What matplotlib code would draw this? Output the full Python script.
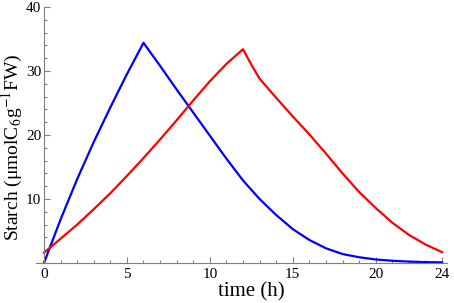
import matplotlib
matplotlib.use('Agg')
import matplotlib.pyplot as plt
from matplotlib.ticker import MultipleLocator

# Starch over a 24 h cycle
t_blue = [0, 1, 2, 3, 4, 5, 6, 7, 8, 9, 10, 11, 12, 13, 14, 15, 16, 17, 18, 19, 20, 21, 22, 23, 24]
starch_blue = [0.0, 6.8, 13.1, 18.9, 24.3, 29.5, 34.4, 30.8, 27.1, 23.5, 19.9, 16.3, 12.9,
               10.0, 7.5, 5.3, 3.6, 2.3, 1.4, 0.9, 0.55, 0.35, 0.22, 0.14, 0.1]

t_red = [0, 1, 2, 3, 4, 5, 6, 7, 8, 9, 10, 11, 12, 12.5, 13, 14, 15, 16, 17, 18, 19, 20, 21, 22, 23, 24]
starch_red = [1.6, 3.8, 6.0, 8.4, 10.9, 13.6, 16.4, 19.3, 22.3, 25.4, 28.4, 31.1, 33.4, 31.0,
              28.8, 25.8, 22.9, 20.1, 17.1, 14.0, 11.1, 8.6, 6.3, 4.4, 2.9, 1.7]

x_ticks = [0, 5, 10, 15, 20, 24]
y_ticks = [10, 20, 30, 40]

plt.rcParams['font.family'] = ['Liberation Serif', 'DejaVu Serif']
plt.rcParams['mathtext.fontset'] = 'stix'

fig = plt.figure(figsize=(4.54, 3.03), dpi=100)
ax = fig.add_axes([0.0786, 0.132, 0.906, 0.845])

ax.plot(t_blue, starch_blue, color='#0000ff', lw=1.6, solid_joinstyle='round')
ax.plot(t_red, starch_red, color='#ff0000', lw=1.6, solid_joinstyle='round')

ax.set_xlim(-0.5, 24.3)
ax.set_ylim(0, 40)

# Mathematica-like axes: only left/bottom, y axis sits at t=0
for s in ['top', 'right']:
    ax.spines[s].set_visible(False)
ax.spines['left'].set_position(('data', 0))
for s in ['left', 'bottom']:
    ax.spines[s].set_color('#808080')
    ax.spines[s].set_linewidth(0.8)

ax.set_xticks(x_ticks)
ax.set_yticks(y_ticks)
ax.xaxis.set_minor_locator(MultipleLocator(1))
ax.yaxis.set_minor_locator(MultipleLocator(2))
ax.tick_params(which='both', direction='in', color='#808080', width=0.8, labelsize=11)
ax.tick_params(which='major', length=4)
ax.tick_params(which='minor', length=2.5)
ax.tick_params(axis='y', pad=2)

ax.set_xlabel('time (h)', fontsize=15)
ax.xaxis.set_label_coords(0.525, -0.075)
ax.set_ylabel('Starch (μmolC$_6$g$^{-1}$FW)', fontsize=14)
ax.yaxis.set_label_coords(-0.026, 0.45)

fig.savefig('out.png', dpi=100)
